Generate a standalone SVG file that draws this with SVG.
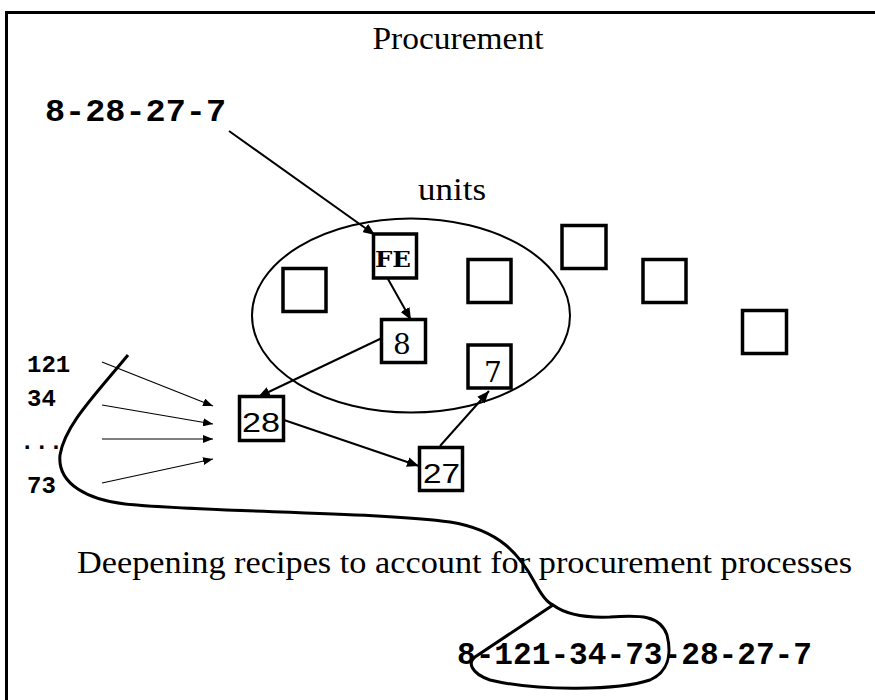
<svg xmlns="http://www.w3.org/2000/svg" width="875" height="700" viewBox="0 0 875 700">
<defs>
<style>
.box{fill:#fff;stroke:#000;stroke-width:3.5}
.title{font-family:"Liberation Serif","Times New Roman",serif;font-size:32px;fill:#000}
.code{font-family:"Liberation Mono","Courier New",monospace;font-weight:bold;fill:#000}
.ser{font-family:"DejaVu Serif","Liberation Serif",serif;fill:#000}
.sans{font-family:"Liberation Sans",Arial,sans-serif;fill:#000}
.arr{fill:none;stroke:#000;stroke-width:2;marker-end:url(#ah)}
.thin{fill:none;stroke:#000;stroke-width:1.2;marker-end:url(#ahs)}
</style>
<marker id="ah" viewBox="0 0 12 10" refX="12" refY="5" markerWidth="12" markerHeight="10" markerUnits="userSpaceOnUse" orient="auto">
<path d="M0,0 L12,5 L0,10 Z" fill="#000"/>
</marker>
<marker id="ahs" viewBox="0 0 10 8" refX="10" refY="4" markerWidth="10" markerHeight="8" markerUnits="userSpaceOnUse" orient="auto">
<path d="M0,0 L10,4 L0,8 Z" fill="#000"/>
</marker>
</defs>
<rect width="875" height="700" fill="#fff"/>
<path d="M6.5,700 V12.5 H875" fill="none" stroke="#000" stroke-width="3"/>

<text class="title" x="458" y="49" text-anchor="middle" font-size="33" textLength="171" lengthAdjust="spacingAndGlyphs">Procurement</text>
<text class="title" x="452" y="200" text-anchor="middle" font-size="31" textLength="68" lengthAdjust="spacingAndGlyphs">units</text>
<text class="title" x="77" y="573" textLength="775" lengthAdjust="spacingAndGlyphs">Deepening recipes to account for procurement processes</text>

<g id="recipe-top"><text class="code" x="45" y="121" font-size="31" textLength="181" lengthAdjust="spacingAndGlyphs">8-28-27-7</text></g>
<g id="recipe-bottom"><text class="code" x="457" y="664" font-size="31" textLength="355" lengthAdjust="spacingAndGlyphs">8-121-34-73-28-27-7</text></g>

<g id="labels">
<text class="code" x="27" y="372" font-size="24">121</text>
<text class="code" x="27" y="406" font-size="24">34</text>
<text class="code" x="20" y="449" font-size="24">...</text>
<text class="code" x="27" y="493" font-size="24">73</text>
</g>

<g id="units-ellipse"><ellipse cx="411" cy="315.5" rx="159" ry="97" fill="none" stroke="#000" stroke-width="2"/></g>

<g id="unit-FE"><rect class="box" x="373.5" y="234" width="43" height="44"/><text class="ser" x="393" y="267" font-size="22" font-weight="bold" text-anchor="middle" textLength="36" lengthAdjust="spacingAndGlyphs">FE</text></g>
<g id="unit-a"><rect class="box" x="283" y="268.5" width="43" height="43"/></g>
<g id="unit-b"><rect class="box" x="468" y="259.5" width="43" height="43"/></g>
<g id="unit-c"><rect class="box" x="562" y="225.5" width="44" height="43"/></g>
<g id="unit-d"><rect class="box" x="643" y="259.5" width="43" height="43"/></g>
<g id="unit-e"><rect class="box" x="742.5" y="310.5" width="44" height="43"/></g>
<g id="unit-8"><rect class="box" x="381.5" y="319.5" width="44" height="43"/><text class="ser" x="402" y="354" font-size="28" text-anchor="middle">8</text></g>
<g id="unit-7"><rect class="box" x="468" y="345" width="43" height="43"/><text class="ser" x="493" y="382" font-size="28" text-anchor="middle">7</text></g>
<g id="unit-28"><rect class="box" x="239.5" y="396.5" width="44" height="44"/><text class="sans" x="261" y="432" font-size="28" text-anchor="middle" textLength="38" lengthAdjust="spacingAndGlyphs">28</text></g>
<g id="unit-27"><rect class="box" x="419.5" y="447.5" width="43" height="43"/><text class="sans" x="441.5" y="483" font-size="28" text-anchor="middle" textLength="37" lengthAdjust="spacingAndGlyphs">27</text></g>

<g id="connectors">
<line class="arr" x1="229" y1="131" x2="375" y2="235"/>
<line class="arr" x1="388" y1="279" x2="411" y2="320"/>
<line class="arr" x1="382" y1="338" x2="258" y2="397"/>
<line class="arr" x1="284" y1="420" x2="419" y2="466"/>
<line class="arr" x1="440" y1="446" x2="489" y2="391"/>
<line class="thin" x1="102" y1="362" x2="213" y2="406"/>
<line class="thin" x1="102" y1="405" x2="213" y2="424"/>
<line class="thin" x1="102" y1="439" x2="213" y2="439"/>
<line class="thin" x1="102" y1="483" x2="213" y2="459"/>
<path d="M128,355 C95,395 65,425 60,455 C57,485 90,500 125,504 C200,512 380,512 450,522 C500,530 520,555 535,583 C543,598 548,603 553,605 C565,614 585,618 610,617 C640,615 660,615 667,635 C672,655 668,672 650,680 C620,690 540,692 490,680 C470,673 468,662 475,657 L553,605" fill="none" stroke="#000" stroke-width="3"/>
</g>
</svg>
